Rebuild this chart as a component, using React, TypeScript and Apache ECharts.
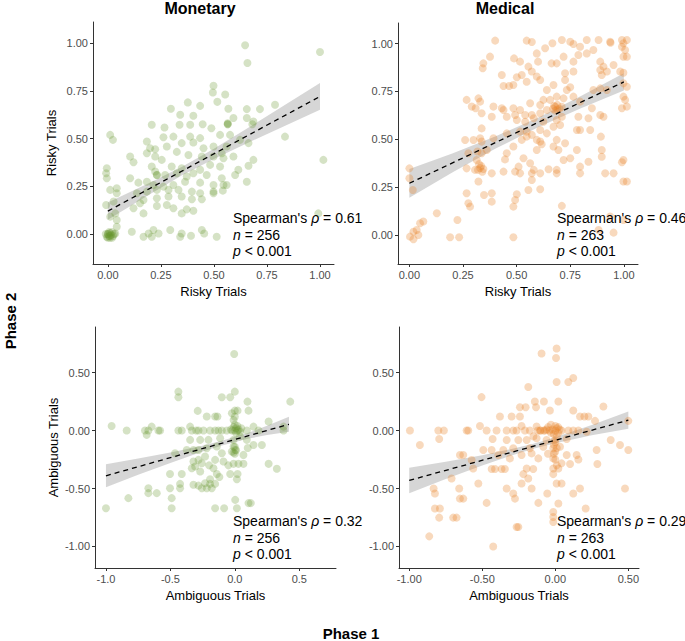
import React, { useEffect, useRef } from "react";
import * as echarts from "echarts";

// ---------- DATA ----------
const riskyTicks = [0, 0.25, 0.5, 0.75, 1];
const ambYTicks = [-1, -0.5, 0, 0.5];
const ambXTicksMonetary = [-1, -0.5, 0, 0.5];
const ambXTicksMedical = [-1, -0.5, 0, 0.5];

const monetaryRisky: number[][] = [
  [0.647,0.988],[1.0,0.953],[0.658,0.895],[1.016,0.388],[0.835,0.51],[0.788,0.677],[0.498,0.776],[0.495,0.741],[0.553,0.73],[0.377,0.689],
  [0.297,0.656],[0.435,0.671],[0.516,0.692],[0.568,0.656],[0.655,0.654],[0.717,0.654],[0.655,0.607],[0.681,0.575],[0.565,0.575],[0.488,0.554],
  [0.447,0.575],[0.403,0.619],[0.341,0.624],[0.267,0.558],[0.207,0.572],[0.338,0.572],[0.388,0.572],[0.309,0.51],[0.262,0.507],[0.388,0.51],
  [0.435,0.502],[0.529,0.519],[0.576,0.519],[0.623,0.493],[0.663,0.476],[0.56,0.458],[0.498,0.458],[0.451,0.449],[0.403,0.479],[0.348,0.476],
  [0.278,0.458],[0.223,0.444],[0.184,0.484],[0.011,0.519],[0.024,0.493],[0.325,0.43],[0.38,0.414],[0.443,0.406],[0.498,0.406],[0.545,0.397],
  [0.592,0.406],[0.686,0.388],[0.663,0.357],[0.615,0.336],[0.529,0.353],[0.482,0.362],[0.435,0.336],[0.403,0.318],[0.348,0.344],[0.301,0.353],
  [0.254,0.388],[0.223,0.406],[0.184,0.423],[0.105,0.406],[0.121,0.376],[0.207,0.353],[0.223,0.327],[0.27,0.309],[0.325,0.318],[0.372,0.301],
  [0.466,0.309],[0.537,0.292],[0.6,0.309],[0.655,0.274],[0.56,0.257],[0.498,0.257],[0.435,0.269],[0.364,0.274],[0.309,0.257],[0.262,0.248],
  [0.215,0.257],[0.184,0.274],[0.144,0.269],[0.105,0.292],[-0.005,0.344],[-0.008,0.318],[-0.005,0.292],[0.011,0.231],[0.042,0.24],[0.042,0.213],
  [0.137,0.213],[0.184,0.222],[0.231,0.231],[0.286,0.231],[0.333,0.231],[0.396,0.222],[0.498,0.222],[0.545,0.257],[0.498,0.213],[0.435,0.213],
  [0.443,0.182],[0.396,0.182],[0.348,0.196],[0.286,0.196],[0.231,0.187],[0.168,0.178],[0.152,0.161],[0.121,0.135],[0.231,0.147],[0.278,0.152],
  [0.309,0.135],[0.372,0.129],[0.403,0.122],[0.348,0.108],[0.168,0.108],[0.035,0.108],[0.027,0.17],[-0.008,0.152],[0.011,0.091],[0.042,0.073],
  [0.042,0.038],[0.113,0.012],[0.168,-0.014],[0.192,0.003],[0.215,0.021],[0.239,0.003],[0.294,0.021],[0.348,0.003],[0.341,-0.014],[0.392,-0.009],
  [0.443,0.021],[0.454,0.003],[0.513,-0.014],[0.992,0.108],[0.207,-0.014],[0.035,0.003],[0.199,0.449],[0.686,0.589],[0.592,0.607],[0.565,0.58],
  [0.542,0.227],[0.537,0.423],[0.231,0.309],[0.565,0.575],[0.231,0.309],[0.0,0.0],[0.005,-0.01],[0.01,0.005],[-0.005,-0.015],[0.015,-0.005],
  [0.02,0.01],[0.0,-0.02],[0.01,-0.02],[0.025,-0.01],[-0.01,0.0],[0.005,0.01],[0.02,-0.02],[0.03,0.0],[0.0,0.0],[0.01,-0.01],
];

const medicalRisky: number[][] = [
  [0.40,1.016],[0.547,1.016],[0.571,1.009],[0.667,1.002],[0.711,1.019],[0.75,1.01],[0.765,0.998],[0.827,1.019],[0.882,1.019],[0.936,1.01],
  [0.938,1.005],[0.991,1.019],[1.014,1.019],[0.998,1.002],[0.991,0.984],[1.006,0.967],[0.998,0.932],[1.014,0.932],[0.633,0.976],[0.594,0.949],
  [0.796,0.984],[0.827,0.949],[0.858,0.967],[0.89,0.906],[0.788,0.941],[0.765,0.906],[0.719,0.932],[0.687,0.897],[0.663,0.897],[0.6,0.906],
  [0.516,0.906],[0.488,0.923],[0.376,0.932],[0.345,0.897],[0.342,0.871],[0.905,0.88],[0.89,0.862],[0.897,0.836],[0.952,0.888],[0.921,0.854],
  [0.983,0.854],[0.998,0.848],[1.014,0.775],[0.998,0.793],[0.555,0.88],[0.571,0.854],[0.594,0.828],[0.61,0.81],[0.524,0.836],[0.501,0.824],
  [0.485,0.784],[0.439,0.779],[0.465,0.779],[0.431,0.836],[0.547,0.801],[0.726,0.845],[0.765,0.854],[0.726,0.81],[0.734,0.758],[0.75,0.772],
  [0.765,0.723],[0.641,0.758],[0.672,0.784],[0.687,0.723],[0.719,0.714],[0.858,0.758],[0.89,0.766],[0.921,0.758],[0.796,0.697],[0.851,0.662],
  [0.998,0.723],[1.006,0.706],[0.991,0.662],[1.014,0.671],[0.267,0.706],[0.322,0.714],[0.33,0.697],[0.291,0.671],[0.309,0.662],[0.337,0.636],
  [0.392,0.671],[0.431,0.662],[0.439,0.653],[0.485,0.662],[0.516,0.653],[0.563,0.688],[0.61,0.679],[0.625,0.706],[0.656,0.706],[0.641,0.653],
  [0.61,0.636],[0.571,0.627],[0.54,0.627],[0.493,0.627],[0.454,0.618],[0.384,0.618],[0.501,0.601],[0.54,0.592],[0.58,0.61],[0.625,0.592],
  [0.687,0.601],[0.711,0.618],[0.703,0.575],[0.788,0.618],[0.835,0.61],[0.89,0.627],[0.905,0.618],[0.781,0.549],[0.796,0.549],[0.843,0.549],
  [0.893,0.514],[0.897,0.444],[0.672,0.566],[0.61,0.549],[0.547,0.54],[0.516,0.54],[0.454,0.531],[0.392,0.505],[0.337,0.557],[0.33,0.505],
  [0.337,0.488],[0.299,0.496],[0.26,0.496],[0.275,0.427],[0.317,0.436],[0.337,0.427],[0.361,0.444],[0.454,0.427],[0.485,0.462],[0.524,0.497],
  [0.547,0.514],[0.571,0.523],[0.594,0.497],[0.61,0.488],[0.617,0.474],[0.594,0.444],[0.641,0.531],[0.687,0.497],[0.726,0.479],[0.672,0.462],
  [0.695,0.444],[0.781,0.444],[0.75,0.401],[0.719,0.392],[0.835,0.383],[0.897,0.409],[0.998,0.392],[0.991,0.38],[0.952,0.322],[0.913,0.322],
  [0.796,0.357],[0.796,0.322],[0.687,0.34],[0.687,0.322],[0.649,0.343],[0.61,0.322],[0.571,0.322],[0.516,0.322],[0.493,0.331],[0.439,0.331],
  [0.384,0.322],[0.509,0.357],[0.563,0.375],[0.58,0.34],[0.532,0.401],[0.446,0.395],[0.314,0.392],[0.306,0.34],[0.322,0.279],[0.267,0.348],
  [0.571,0.287],[0.61,0.239],[0.555,0.235],[0.501,0.213],[0.493,0.183],[0.485,0.148],[0.711,0.152],[0.267,0.218],[0.275,0.166],[0.283,0.148],
  [0.384,0.218],[0.348,0.209],[0.384,0.174],[0.128,0.113],[0.065,0.07],[0.05,0.061],[0.034,0.026],[0.019,0.017],[0.042,0.0],[0.003,-0.009],
  [0.019,-0.023],[0.19,-0.012],[0.232,-0.012],[0.224,0.078],[0.485,-0.012],[0.0,0.348],[0.0,0.296],[0.016,0.235],[0.882,0.026],[0.952,0.012],
  [0.936,0.096],[0.998,0.078],[0.998,0.279],[1.014,0.279],[0.67,0.66],[0.68,0.67],[0.69,0.68],[0.7,0.66],[0.68,0.65],[0.71,0.67],
  [0.69,0.655],[0.675,0.675],[0.32,0.34],[0.33,0.35],[0.34,0.33],[0.335,0.36],[0.345,0.345],[0.325,0.37],
];

const monetaryAmbiguous: number[][] = [
  [-0.005,0.661],[0.0,0.336],[-0.438,0.336],[-0.438,0.287],[-0.101,0.287],[-0.036,0.287],[0.098,0.25],[0.43,0.25],[-0.288,0.17],[-0.218,0.121],
  [-0.153,0.121],[-0.135,0.121],[0.0,0.172],[0.021,0.172],[0.106,0.172],[0.262,0.078],[-0.956,0.04],[-0.839,0.0],[-0.697,0.0],[-0.671,0.0],
  [-0.645,0.034],[-0.593,0.0],[-0.58,0.0],[-0.438,0.0],[-0.412,0.0],[-0.347,0.034],[-0.334,0.0],[-0.282,0.0],[-0.243,0.0],[-0.192,0.0],
  [-0.153,0.0],[-0.127,0.0],[-0.101,0.0],[-0.062,0.0],[0.093,0.0],[0.145,0.034],[0.184,0.0],[0.378,0.0],[0.378,0.034],[-0.684,-0.037],
  [-0.347,-0.08],[-0.269,-0.08],[-0.205,-0.08],[-0.114,-0.066],[-0.01,-0.08],[0.093,-0.08],[0.145,-0.124],[0.21,-0.124],[-0.01,-0.138],[0.003,-0.167],
  [-0.023,-0.181],[-0.14,-0.138],[-0.218,-0.152],[-0.282,-0.167],[-0.321,-0.167],[-0.373,-0.167],[-0.464,-0.195],[-0.101,-0.195],[0.067,-0.21],[-0.321,-0.267],
  [-0.282,-0.253],[-0.256,-0.282],[-0.231,-0.224],[-0.153,-0.253],[-0.088,-0.267],[-0.01,-0.287],[0.028,-0.287],[0.067,-0.287],[0.262,-0.287],[0.326,-0.33],
  [-0.308,-0.31],[-0.334,-0.325],[-0.166,-0.325],[-0.269,-0.353],[-0.503,-0.374],[-0.412,-0.374],[-0.14,-0.374],[-0.036,-0.374],[0.021,-0.374],[0.016,-0.42],
  [-0.192,-0.42],[-0.231,-0.454],[-0.192,-0.46],[-0.153,-0.46],[-0.256,-0.497],[-0.218,-0.497],[-0.179,-0.497],[-0.282,-0.475],[-0.321,-0.468],[-0.425,-0.46],
  [-0.503,-0.497],[-0.425,-0.497],[-0.671,-0.497],[-0.671,-0.54],[-0.606,-0.54],[-0.49,-0.583],[-0.826,-0.583],[-0.49,-0.67],[-1.0,-0.67],[-0.153,-0.67],
  [-0.083,-0.67],[0.016,-0.67],[0.106,-0.626],[0.124,-0.626],[0.003,-0.598],[-0.023,0.149],[-0.01,0.092],[0.0,0.0],[0.01,0.02],[0.02,0.0],
  [-0.01,0.03],[0.03,0.01],[0.04,-0.01],[0.0,0.05],[-0.02,0.0],[0.05,0.02],[0.01,-0.02],[0.02,0.04],[-0.03,0.01],[0.0,-0.14],
  [0.01,-0.17],[-0.01,-0.19],[0.0,-0.2],[0.0,0.12],[-0.3,0.0],[-0.05,-0.3],[-0.12,-0.4],[0.1,-0.15],[-0.2,-0.3],[0.04,-0.05],
];

const medicalAmbiguous: number[][] = [
  [0.009,0.708],[-0.094,0.665],[0.005,0.627],[0.123,0.454],[0.089,0.419],[0.009,0.419],[-0.505,0.289],[-0.185,0.376],[0.021,0.251],[-0.078,0.251],
  [-0.14,0.251],[-0.242,0.202],[-0.203,0.202],[-0.132,0.202],[-0.037,0.173],[0.123,0.173],[0.329,0.208],[-0.379,0.121],[-0.299,0.121],[-0.242,0.121],
  [0.169,0.121],[0.199,0.121],[0.226,0.121],[0.272,0.084],[0.5,0.084],[-0.995,0.0],[-0.801,0.0],[-0.763,0.0],[-0.607,0.0],[-0.596,0.0],
  [-0.516,0.04],[-0.47,0.0],[-0.402,0.0],[-0.333,0.0],[-0.288,0.0],[-0.265,0.0],[-0.231,0.04],[-0.208,0.0],[-0.174,0.0],[-0.128,0.035],
  [-0.105,0.0],[-0.071,0.0],[0.043,0.0],[0.089,0.0],[0.123,0.0],[0.158,0.0],[0.215,-0.01],[-0.795,-0.072],[-0.927,-0.124],[-0.429,-0.072],
  [-0.333,-0.081],[-0.253,-0.081],[-0.196,-0.081],[-0.128,-0.066],[-0.06,-0.081],[-0.002,-0.081],[0.078,-0.072],[0.379,-0.081],[0.443,-0.124],[0.5,-0.168],
  [0.283,-0.168],[-0.493,-0.168],[-0.436,-0.168],[-0.356,-0.168],[-0.288,-0.153],[-0.174,-0.153],[-0.082,-0.139],[-0.014,-0.153],[0.032,-0.139],[-0.573,-0.254],
  [-0.653,-0.211],[-0.63,-0.211],[-0.39,-0.211],[-0.311,-0.24],[-0.231,-0.211],[-0.162,-0.197],[-0.116,-0.24],[-0.014,-0.24],[0.078,-0.211],[0.146,-0.211],
  [0.158,-0.25],[-0.562,-0.327],[-0.436,-0.332],[-0.413,-0.332],[-0.368,-0.332],[-0.345,-0.332],[-0.196,-0.327],[-0.151,-0.332],[-0.014,-0.327],[0.021,-0.327],
  [0.043,-0.283],[0.101,-0.289],[0.288,-0.289],[-0.71,-0.413],[-0.219,-0.376],[-0.014,-0.376],[-0.527,-0.457],[-0.231,-0.457],[0.009,-0.457],[0.043,-0.457],
  [-0.833,-0.5],[-0.658,-0.5],[-0.333,-0.5],[-0.162,-0.5],[0.169,-0.5],[0.477,-0.5],[-0.824,-0.543],[-0.288,-0.543],[-0.276,-0.587],[-0.055,-0.543],
  [0.123,-0.543],[-0.653,-0.587],[-0.63,-0.587],[-0.47,-0.624],[0.021,-0.63],[-0.116,-0.624],[-0.824,-0.673],[-0.79,-0.673],[0.208,-0.673],[-0.699,-0.751],
  [-0.676,-0.751],[-0.795,-0.751],[-0.014,-0.702],[-0.014,-0.746],[-0.014,-0.789],[-0.265,-0.832],[-0.253,-0.832],[-0.863,-0.913],[-0.425,-1.0],[-0.185,-0.413],
  [0.0,0.0],[-0.02,0.01],[0.01,0.02],[-0.04,0.0],[-0.05,0.03],[0.02,-0.02],[-0.01,-0.03],[0.03,0.01],[-0.03,-0.02],[0.0,0.04],
  [-0.06,0.01],[0.01,-0.05],[-0.08,0.0],[-0.1,0.0],[0.0,-0.1],[0.01,-0.15],[-0.01,-0.2],[0.0,-0.25],[0.01,-0.3],[-0.01,-0.12],
  [0.0,-0.18],[-0.12,0.0],[-0.15,-0.05],[-0.05,-0.2],[0.02,0.03],[-0.03,0.05],
];

// fitted lines [x, y]
const monetaryRiskyFit = [[0, 0.12], [1, 0.72]];
const medicalRiskyFit = [[0, 0.27], [1, 0.8]];
const monetaryAmbFit = [[-1, -0.39], [0.42, 0.054]];
const medicalAmbFit = [[-1, -0.43], [0.5, 0.09]];

// confidence bands [x, lower, upper]
const monetaryRiskyBand = [[0,0.075,0.165],[0.2,0.21,0.27],[0.35,0.308,0.352],[0.5,0.393,0.447],[0.7,0.498,0.582],[1,0.65,0.79]];
const medicalRiskyBand = [[0,0.195,0.345],[0.2,0.326,0.426],[0.4,0.45,0.514],[0.6,0.563,0.613],[0.8,0.662,0.726],[1,0.755,0.845]];
const monetaryAmbBand = [[-1,-0.49,-0.29],[-0.75,-0.382,-0.242],[-0.5,-0.279,-0.189],[-0.25,-0.18,-0.13],[-0.1,-0.128,-0.088],[0.1,-0.071,-0.021],[0.25,-0.039,0.041],[0.42,-0.011,0.119]];
const medicalAmbBand = [[-1,-0.54,-0.32],[-0.75,-0.418,-0.268],[-0.5,-0.302,-0.212],[-0.3,-0.215,-0.159],[-0.15,-0.157,-0.113],[0,-0.109,-0.057],[0.25,-0.041,0.049],[0.5,0.015,0.165]];

const statsRho = ["0.61", "0.46", "0.32", "0.29"];
const statsN = ["256", "263", "256", "263"];
const statsP = ["0.001", "0.001", "0.001", "0.001"];

// ---------- LAYOUT ----------
const FONT = "Liberation Sans, Arial, sans-serif";
const GREEN = "rgba(105,150,45,0.35)";
const ORANGE = "rgba(232,130,40,0.38)";

const panels = [
  { grid: { left: 93, top: 22, width: 241, height: 242 }, xr: [-0.07, 1.066], yr: [-0.157, 1.11], xt: riskyTicks, xd: 2, yt: riskyTicks, yd: 2,
    pts: monetaryRisky, fit: monetaryRiskyFit, band: monetaryRiskyBand, color: GREEN, yName: "Risky Trials", xName: "Risky Trials", stat: [233, 218] },
  { grid: { left: 398, top: 23, width: 240, height: 241 }, xr: [-0.053, 1.066], yr: [-0.152, 1.108], xt: riskyTicks, xd: 2, yt: riskyTicks, yd: 2,
    pts: medicalRisky, fit: medicalRiskyFit, band: medicalRiskyBand, color: ORANGE, yName: "", xName: "Risky Trials", stat: [557, 218] },
  { grid: { left: 95, top: 327, width: 241, height: 241 }, xr: [-1.085, 0.785], yr: [-1.186, 0.894], xt: ambXTicksMonetary, xd: 1, yt: ambYTicks, yd: 2,
    pts: monetaryAmbiguous, fit: monetaryAmbFit, band: monetaryAmbBand, color: GREEN, yName: "Ambiguous Trials", xName: "Ambiguous Trials", stat: [233, 521] },
  { grid: { left: 399, top: 327, width: 240, height: 241 }, xr: [-1.07, 0.573], yr: [-1.186, 0.894], xt: ambXTicksMedical, xd: 2, yt: ambYTicks, yd: 2,
    pts: medicalAmbiguous, fit: medicalAmbFit, band: medicalAmbBand, color: ORANGE, yName: "", xName: "Ambiguous Trials", stat: [557, 521] },
];

const axisLineStyle = { color: "#333", width: 1 };

function buildOption() {
  const grid: any[] = [];
  const xAxis: any[] = [];
  const yAxis: any[] = [];
  const series: any[] = [];
  const graphic: any[] = [];

  panels.forEach((p, i) => {
    grid.push({ ...p.grid, containLabel: false });
    const common = {
      gridIndex: i,
      type: "value",
      splitLine: { show: false },
      axisLine: { show: true, lineStyle: axisLineStyle, onZero: false },
      nameTextStyle: { fontFamily: FONT, fontSize: 13, color: "#000" },
    };
    xAxis.push({
      ...common,
      min: p.xr[0], max: p.xr[1],
      name: p.xName, nameLocation: "middle", nameGap: 21,
      axisTick: { show: true, length: 3, lineStyle: axisLineStyle, customValues: p.xt },
      axisLabel: { customValues: p.xt, fontFamily: FONT, fontSize: 11, color: "#4d4d4d", margin: 5,
        formatter: (v: number) => v.toFixed(p.xd) },
    });
    yAxis.push({
      ...common,
      min: p.yr[0], max: p.yr[1],
      name: p.yName, nameLocation: "middle", nameGap: 35,
      axisTick: { show: true, length: 3, lineStyle: axisLineStyle, customValues: p.yt },
      axisLabel: { customValues: p.yt, fontFamily: FONT, fontSize: 11, color: "#4d4d4d", margin: 5,
        formatter: (v: number) => v.toFixed(p.yd) },
    });
    series.push({
      type: "scatter", xAxisIndex: i, yAxisIndex: i, data: p.pts, symbolSize: 8,
      itemStyle: { color: p.color }, silent: true,
    });
    const band = p.band;
    series.push({
      type: "custom", xAxisIndex: i, yAxisIndex: i, data: band, silent: true, clip: true,
      renderItem: (params: any, api: any) => {
        if (params.dataIndex !== 0) return null;
        const upper = band.map((b) => api.coord([b[0], b[2]]));
        const lower = band.map((b) => api.coord([b[0], b[1]])).reverse();
        return { type: "polygon", shape: { points: upper.concat(lower) }, style: { fill: "rgba(153,153,153,0.4)", stroke: "none" } };
      },
    });
    series.push({
      type: "line", xAxisIndex: i, yAxisIndex: i, data: p.fit, symbol: "none", silent: true,
      lineStyle: { color: "#000", width: 1.3, type: [5, 4] },
    });
    const [sx, sy] = p.stat;
    const ts = { fontFamily: FONT, fontSize: 14, fill: "#000", textVerticalAlign: "middle" };
    const it = { fontFamily: FONT, fontSize: 14, fontStyle: "italic", color: "#000" };
    graphic.push(
      { type: "text", x: sx, y: sy, z: 100, style: { ...ts, text: `Spearman's {i|ρ} = ${statsRho[i]}`, rich: { i: it } } },
      { type: "text", x: sx, y: sy + 16.7, z: 100, style: { ...ts, text: `{i|n} = ${statsN[i]}`, rich: { i: it } } },
      { type: "text", x: sx, y: sy + 33.4, z: 100, style: { ...ts, text: `{i|p} < ${statsP[i]}`, rich: { i: it } } },
    );
  });

  const titleStyle = { fontFamily: FONT, fontSize: 16, fontWeight: "bold", fill: "#000", textAlign: "center", textVerticalAlign: "middle" };
  graphic.push(
    { type: "text", x: 200, y: 8, style: { ...titleStyle, text: "Monetary" } },
    { type: "text", x: 505, y: 8, style: { ...titleStyle, text: "Medical" } },
    { type: "text", x: 351, y: 633, style: { ...titleStyle, fontSize: 15, text: "Phase 1" } },
    { type: "text", x: 10, y: 321, rotation: Math.PI / 2, style: { ...titleStyle, fontSize: 15, text: "Phase 2" } },
  );

  return { animation: false, backgroundColor: "#fff", grid, xAxis, yAxis, series, graphic };
}

export default function App() {
  const ref = useRef<HTMLDivElement>(null);
  useEffect(() => {
    if (!ref.current) return;
    const chart = echarts.init(ref.current, undefined, { renderer: "svg" });
    chart.setOption(buildOption() as any);
    return () => chart.dispose();
  }, []);
  return <div ref={ref} style={{ position: "fixed", left: 0, top: 0, width: 685, height: 641 }} />;
}
